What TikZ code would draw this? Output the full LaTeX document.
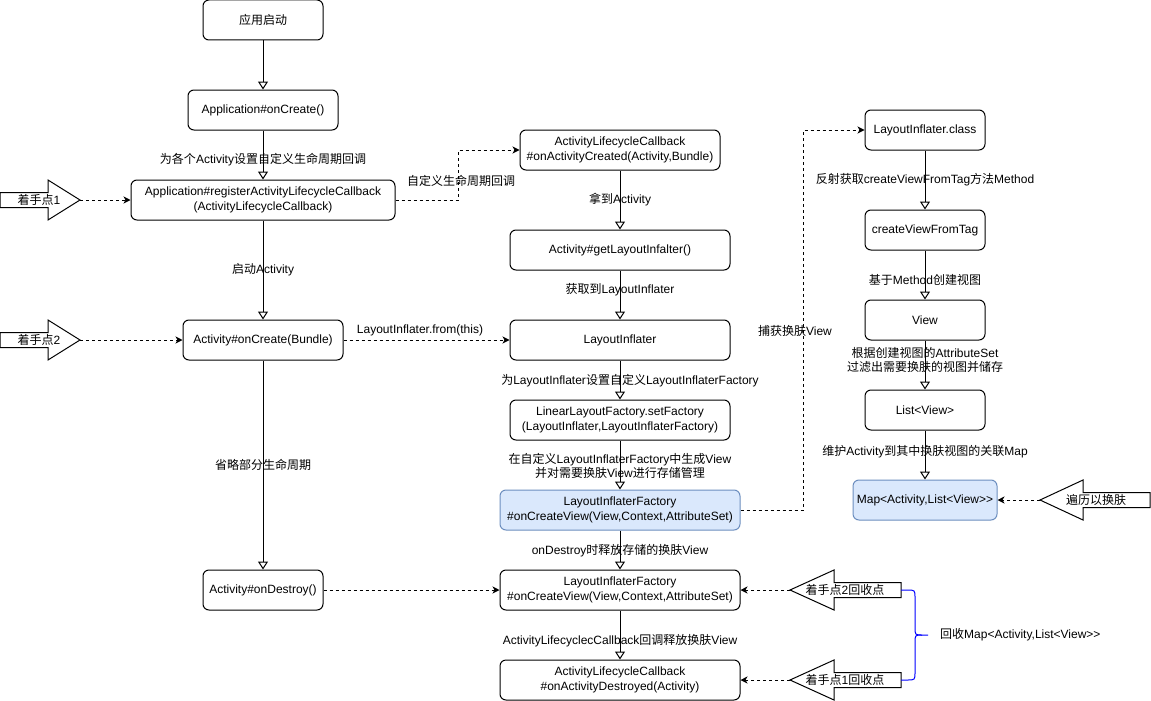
\documentclass[tikz,border=0pt]{standalone}
\usepackage{fontspec}
\setmainfont{Liberation Sans}
\newfontfamily\zh{Noto Sans CJK SC}
\usetikzlibrary{arrows.meta}
\definecolor{bluefill}{HTML}{DAE8FC}
\definecolor{bluedraw}{HTML}{6C8EBF}
\tikzset{
  box/.style={draw, rounded corners=6pt, line width=1pt, minimum height=40pt, align=center,
    font=\fontsize{12}{14.5}\selectfont, inner sep=0pt, fill=white},
  bluebox/.style={box, fill=bluefill, draw=bluedraw},
  lbl/.style={align=center, font=\fontsize{12}{14.5}\selectfont, inner sep=0pt},
  solidarrow/.style={line width=1pt, -{Triangle[open, length=8pt, width=10pt]}},
  dasharrow/.style={line width=1pt, dash pattern=on 3pt off 3pt, -{Stealth[length=7pt, width=7pt, inset=2pt]}},
  blockarrow/.style={draw, line width=1pt, fill=white, line join=miter},
}
\begin{document}
\begin{tikzpicture}[x=1pt, y=-1pt]
\fill[white] (0,0) rectangle (1151,701);
\useasboundingbox (0,0) rectangle (1151,701);

% left column
\node[box, minimum width=120pt] (start) at (263,20) {{\zh 应用启动}};
\node[box, minimum width=150pt] (appc) at (263,110) {Application\#onCreate()};
\node[box, minimum width=264pt] (reg) at (263,200) {Application\#registerActivityLifecycleCallback\\(ActivityLifecycleCallback)};
\node[box, minimum width=160pt] (actc) at (263,340) {Activity\#onCreate(Bundle)};
\node[box, minimum width=120pt] (actd) at (263,590) {Activity\#onDestroy()};

% middle column
\node[box, minimum width=200pt] (created) at (620,150) {ActivityLifecycleCallback\\\#onActivityCreated(Activity,Bundle)};
\node[box, minimum width=220pt] (getli) at (620,250) {Activity\#getLayoutInfalter()};
\node[box, minimum width=220pt] (li) at (620,340) {LayoutInflater};
\node[box, minimum width=220pt] (setf) at (620,420) {LinearLayoutFactory.setFactory\\(LayoutInflater,LayoutInflaterFactory)};
\node[bluebox, minimum width=240pt] (lif1) at (620,510) {LayoutInflaterFactory\\\#onCreateView(View,Context,AttributeSet)};
\node[box, minimum width=240pt] (lif2) at (620,590) {LayoutInflaterFactory\\\#onCreateView(View,Context,AttributeSet)};
\node[box, minimum width=240pt] (destroyed) at (620,680) {ActivityLifecycleCallback\\\#onActivityDestroyed(Activity)};

% right column
\node[box, minimum width=120pt] (lic) at (925,130) {LayoutInflater.class};
\node[box, minimum width=120pt] (cvft) at (925,230) {createViewFromTag};
\node[box, minimum width=120pt] (view) at (925,320) {View};
\node[box, minimum width=120pt] (list) at (925,410) {List<View>};
\node[bluebox, minimum width=144pt] (map) at (925,500) {Map<Activity,List<View>{}>};

% solid edges
\draw[solidarrow] (start) -- (appc);
\draw[solidarrow] (appc) -- (reg);
\draw[solidarrow] (reg) -- (actc);
\draw[solidarrow] (actc) -- (actd);
\draw[solidarrow] (created) -- (getli);
\draw[solidarrow] (getli) -- (li);
\draw[solidarrow] (li) -- (setf);
\draw[solidarrow] (setf) -- (lif1);
\draw[solidarrow] (lif1) -- (lif2);
\draw[solidarrow] (lif2) -- (destroyed);
\draw[solidarrow] (lic) -- (cvft);
\draw[solidarrow] (cvft) -- (view);
\draw[solidarrow] (view) -- (list);
\draw[solidarrow] (list) -- (map);

% edge labels
\node[lbl] (t1) at (263,160) {{\zh 为各个}Activity{\zh 设置自定义生命周期回调}};
\node[lbl] (t2) at (263,270) {{\zh 启动}Activity};
\node[lbl] (t3) at (263,465) {{\zh 省略部分生命周期}};
\node[lbl] (t4) at (461,181) {{\zh 自定义生命周期回调}};
\node[lbl] (t5) at (420,330) {LayoutInflater.from(this)};
\node[lbl] (t6) at (620,200) {{\zh 拿到}Activity};
\node[lbl] (t7) at (620,290) {{\zh 获取到}LayoutInflater};
\node[lbl] (t8) at (630,381) {{\zh 为}LayoutInflater{\zh 设置自定义}LayoutInflaterFactory};
\node[lbl] (t9) at (620,466) {{\zh 在自定义}LayoutInflaterFactory{\zh 中生成}View\\{\zh 并对需要换肤}View{\zh 进行存储管理}};
\node[lbl] (t10) at (620,551) {onDestroy{\zh 时释放存储的换肤}View};
\node[lbl] (t11) at (620,641) {ActivityLifecyclecCallback{\zh 回调释放换肤}View};
\node[lbl] (t12) at (795,331) {{\zh 捕获换肤}View};
\node[lbl] (t13) at (925,180) {{\zh 反射获取}createViewFromTag{\zh 方法}Method};
\node[lbl] (t14) at (925,280) {{\zh 基于}Method{\zh 创建视图}};
\node[lbl] (t15) at (925,360) {{\zh 根据创建视图的}AttributeSet\\{\zh 过滤出需要换肤的视图并储存}};
\node[lbl] (t16) at (925,452) {{\zh 维护}Activity{\zh 到其中换肤视图的关联}Map};

% dashed edges
\coordinate (b1) at (458,200);
\draw[dasharrow] (reg.east) -- (b1) |- (created.west);
\draw[dasharrow] (actc.east) -- (li.west);
\coordinate (b2) at (803,510);
\draw[dasharrow] (lif1.east) -- (b2) |- (lic.west);
\draw[dasharrow] (actd.east) -- (lif2.west);

% block arrows
\draw[blockarrow] (0,192.5) -- (48,192.5) -- (48,180) -- (80,200) -- (48,220) -- (48,207.5) -- (0,207.5) -- cycle;
\node[lbl] (k1) at (39,200) {{\zh 着手点}1};
\coordinate (k1tip) at (80,200);
\draw[dasharrow] (k1tip) -- (reg.west);

\draw[blockarrow] (0,332.5) -- (48,332.5) -- (48,320) -- (80,340) -- (48,360) -- (48,347.5) -- (0,347.5) -- cycle;
\node[lbl] (k2) at (39,340) {{\zh 着手点}2};
\coordinate (k2tip) at (80,340);
\draw[dasharrow] (k2tip) -- (actc.west);

\draw[blockarrow] (1150,492.5) -- (1083,492.5) -- (1083,480) -- (1040,500) -- (1083,520) -- (1083,507.5) -- (1150,507.5) -- cycle;
\node[lbl] (bl) at (1096,500) {{\zh 遍历以换肤}};
\coordinate (bltip) at (1040,500);
\draw[dasharrow] (bltip) -- (map.east);

\draw[blockarrow] (901,582.5) -- (834,582.5) -- (834,570) -- (790,590) -- (834,610) -- (834,597.5) -- (901,597.5) -- cycle;
\node[lbl] (r2) at (845,590) {{\zh 着手点}2{\zh 回收点}};
\coordinate (r2tip) at (790,590);
\draw[dasharrow] (r2tip) -- (lif2.east);

\draw[blockarrow] (901,672.5) -- (834,672.5) -- (834,660) -- (790,680) -- (834,700) -- (834,687.5) -- (901,687.5) -- cycle;
\node[lbl] (r1) at (845,680) {{\zh 着手点}1{\zh 回收点}};
\coordinate (r1tip) at (790,680);
\draw[dasharrow] (r1tip) -- (destroyed.east);

% brace
\coordinate (br2) at (901,590);
\coordinate (br1) at (901,680);
\coordinate (brtip) at (928,635);
\draw[blue, line width=1pt] (br2) -- (907,590) .. controls (915,590) .. (915,598) -- (915,627) .. controls (915,635) .. (922,635) -- (brtip);
\draw[blue, line width=1pt] (br1) -- (907,680) .. controls (915,680) .. (915,672) -- (915,643) .. controls (915,635) .. (922,635);
\node[lbl, anchor=west] (rec) at (940,635) {{\zh 回收}Map<Activity,List<View>{}>};

\end{tikzpicture}
\end{document}
